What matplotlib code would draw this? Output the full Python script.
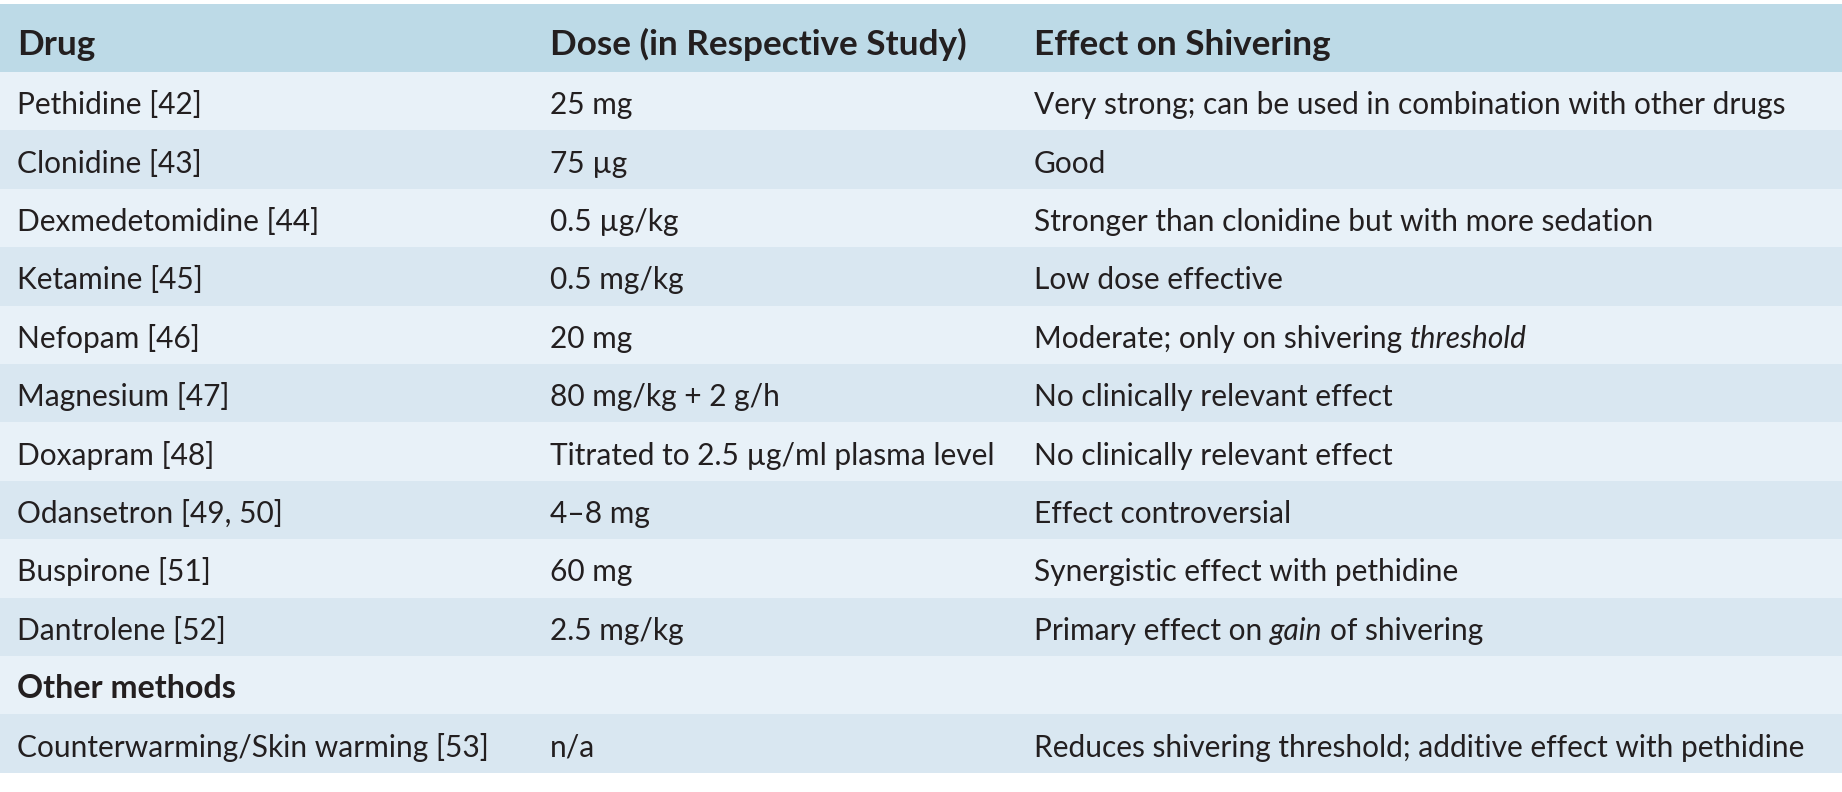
import matplotlib
matplotlib.use("Agg")
import matplotlib.pyplot as plt

plt.rcParams['font.family'] = ['Lato', 'DejaVu Sans']

# table content
header = ["Drug", "Dose (in Respective Study)", "Effect on Shivering"]

drugs = ["Pethidine [42]", "Clonidine [43]", "Dexmedetomidine [44]", "Ketamine [45]",
         "Nefopam [46]", "Magnesium [47]", "Doxapram [48]", "Odansetron [49, 50]",
         "Buspirone [51]", "Dantrolene [52]"]
doses = ["25 mg", "75 µg", "0.5 µg/kg", "0.5 mg/kg", "20 mg", "80 mg/kg + 2 g/h",
         "Titrated to 2.5 µg/ml plasma level", "4–8 mg", "60 mg", "2.5 mg/kg"]
# _word_ marks italic words
effects = ["Very strong; can be used in combination with other drugs",
           "Good",
           "Stronger than clonidine but with more sedation",
           "Low dose effective",
           "Moderate; only on shivering _threshold_",
           "No clinically relevant effect",
           "No clinically relevant effect",
           "Effect controversial",
           "Synergistic effect with pethidine",
           "Primary effect on _gain_ of shivering"]

section_label = "Other methods"
other_methods = ["Counterwarming/Skin warming [53]"]
other_doses = ["n/a"]
other_effects = ["Reduces shivering threshold; additive effect with pethidine"]

# layout (pixels)
W, H = 1842, 792
HEAD_TOP, HEAD_H = 4, 68
ROW_H = 58.4
COL_X = [17, 550, 1034]
BODY_FS = 21.5
HEAD_FS = 25.3
SECT_FS = 23.2
TXT = '#231f20'
C_HEAD = '#bddae7'
C_LIGHT = '#e8f1f8'
C_DARK = '#d9e7f1'

fig = plt.figure(figsize=(W / 100, H / 100), dpi=100)
ax = fig.add_axes([0, 0, 1, 1])
ax.set_xlim(0, W)
ax.set_ylim(H, 0)
ax.axis('off')
renderer = fig.canvas.get_renderer()

rows = [(d, s, e, False) for d, s, e in zip(drugs, doses, effects)]
rows.append((section_label, "", "", True))
rows += [(d, s, e, False) for d, s, e in zip(other_methods, other_doses, other_effects)]

# backgrounds
ax.barh(HEAD_TOP + HEAD_H / 2, W, height=HEAD_H, left=0, color=C_HEAD, linewidth=0)
centers = [HEAD_TOP + HEAD_H + ROW_H * (i + 0.5) for i in range(len(rows))]
ax.barh(centers, W, height=ROW_H, left=0,
        color=[C_LIGHT if i % 2 == 0 else C_DARK for i in range(len(rows))], linewidth=0)


def text_width(s, **kw):
    t = ax.text(0, 0, s, **kw)
    w = t.get_window_extent(renderer).width
    t.remove()
    return w


def draw_rich(x, y, s):
    parts = s.split('_')
    for k, part in enumerate(parts):
        if not part:
            continue
        style = 'italic' if k % 2 else 'normal'
        kw = dict(fontsize=BODY_FS, color=TXT, style=style, va='baseline', ha='left')
        sp = text_width("a a", **kw) - text_width("aa", **kw)
        if part.startswith(' '):
            x += sp
        t = ax.text(x, y, part.strip(), **kw)
        x += t.get_window_extent(renderer).width
        if part.endswith(' '):
            x += sp


# header
for cx, lab in zip(COL_X, header):
    ax.text(cx, HEAD_TOP + HEAD_H / 2 + 17, lab, fontsize=HEAD_FS, fontweight='bold',
            color=TXT, va='baseline', ha='left')

for c, (drug, dose, eff, bold) in zip(centers, rows):
    yb = c + 13
    if bold:
        ax.text(COL_X[0], yb, drug, fontsize=SECT_FS, fontweight='bold', color=TXT,
                va='baseline', ha='left')
        continue
    ax.text(COL_X[0], yb, drug, fontsize=BODY_FS, color=TXT, va='baseline', ha='left')
    ax.text(COL_X[1], yb, dose, fontsize=BODY_FS, color=TXT, va='baseline', ha='left')
    draw_rich(COL_X[2], yb, eff)

fig.savefig("out.png", dpi=100, facecolor='white')
